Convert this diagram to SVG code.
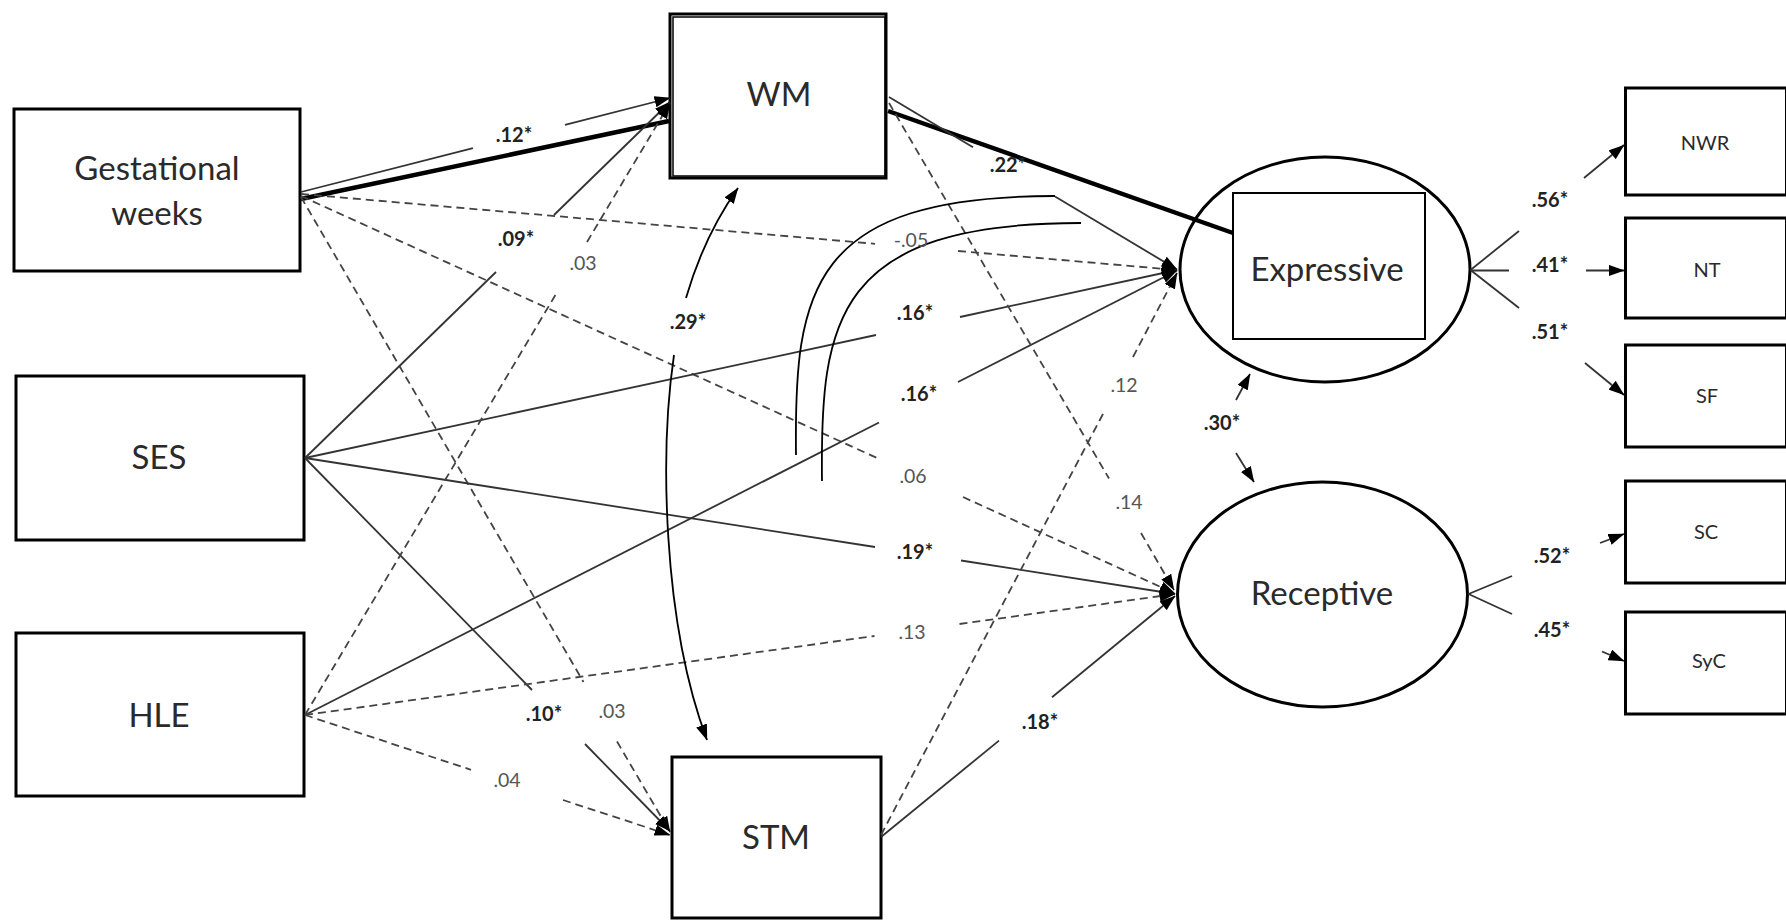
<svg xmlns="http://www.w3.org/2000/svg" width="1786" height="920" viewBox="0 0 1786 920">
<style>
.box{fill:#fff;stroke:#000;stroke-width:3}
.ell{fill:#fff;stroke:#000;stroke-width:3}
.inner{fill:none;stroke:#000;stroke-width:2}
.nt{font-family:Lato,"Noto Sans","Liberation Sans",sans-serif;font-size:33px;fill:#2a2a2a;text-anchor:middle}
.st{font-family:Lato,"Noto Sans","Liberation Sans",sans-serif;font-size:20px;fill:#2a2a2a;text-anchor:middle}
.solid{fill:none;stroke:#333;stroke-width:1.8}
.dash{fill:none;stroke:#444;stroke-width:1.8;stroke-dasharray:8 5}
.thick{fill:none;stroke:#000;stroke-width:4.5}
.arc{fill:none;stroke:#000;stroke-width:1.8}
.lbl{font-family:Lato,"Noto Sans","Liberation Sans",sans-serif;font-size:19.5px;fill:#555;text-anchor:middle}
.sig{font-weight:bold;font-size:20px;fill:#222}
</style>
<defs>
<marker id="ah" markerUnits="userSpaceOnUse" markerWidth="16" markerHeight="12" viewBox="0 0 14 10" refX="13.5" refY="5" orient="auto">
<path d="M0,0 L14,5 L0,10 z" fill="#000"/>
</marker>
</defs>
<rect width="1786" height="920" fill="#fff"/>

<g id="gestational">
<rect class="box" x="14" y="109" width="286" height="162"/>
<text class="nt" x="157" y="180">Gestational</text>
<text class="nt" x="157" y="225">weeks</text>
</g>
<g id="ses">
<rect class="box" x="16" y="376" width="288" height="164"/>
<text class="nt" x="159" y="469">SES</text>
</g>
<g id="hle">
<rect class="box" x="16" y="633" width="288" height="163"/>
<text class="nt" x="159" y="727">HLE</text>
</g>
<g id="wm">
<rect class="box" x="670" y="14" width="216" height="164"/>
<rect fill="none" stroke="#000" stroke-width="1.5" x="673" y="17" width="212" height="159"/>
<text class="nt" x="779" y="106">WM</text>
</g>
<g id="stm">
<rect class="box" x="672" y="757" width="209" height="161"/>
<text class="nt" x="776" y="849">STM</text>
</g>
<g id="expressive">
<ellipse class="ell" cx="1325" cy="269.5" rx="145" ry="112.5"/>
<rect class="inner" x="1233" y="193" width="192" height="146"/>
<text class="nt" x="1327" y="281">Expressive</text>
</g>
<g id="receptive">
<ellipse class="ell" cx="1322.5" cy="594.5" rx="145" ry="112.5"/>
<text class="nt" x="1322" y="605">Receptive</text>
</g>
<g id="nwr">
<rect class="box" x="1625.5" y="88" width="161" height="107"/>
<text class="st" x="1705" y="150">NWR</text>
</g>
<g id="nt">
<rect class="box" x="1625.5" y="218" width="161" height="100"/>
<text class="st" x="1707" y="277">NT</text>
</g>
<g id="sf">
<rect class="box" x="1625.5" y="345" width="161" height="102"/>
<text class="st" x="1707" y="403">SF</text>
</g>
<g id="sc">
<rect class="box" x="1625.5" y="481" width="161" height="102"/>
<text class="st" x="1706" y="539">SC</text>
</g>
<g id="syc">
<rect class="box" x="1625.5" y="612" width="161" height="102"/>
<text class="st" x="1709" y="668">SyC</text>
</g>

<g id="connectors">
<path class="thick" d="M301,199 L669,121"/>
<path class="thick" d="M888,111 L1233,233"/>
<path class="solid" d="M301,192 L473,148.2"/>
<path class="solid" d="M565,124.8 L670,98" marker-end="url(#ah)"/>
<path class="dash" d="M301,194 L875,243.8"/>
<path class="dash" d="M958,251 L1177,270" marker-end="url(#ah)"/>
<path class="dash" d="M301,196 L877,458"/>
<path class="dash" d="M963,497 L1175,593.5" marker-end="url(#ah)"/>
<path class="dash" d="M301,197 L583.5,682"/>
<path class="dash" d="M617,741.5 L670,832" marker-end="url(#ah)"/>
<path class="solid" d="M305,458 L496,272"/>
<path class="solid" d="M554,215 L670,102" marker-end="url(#ah)"/>
<path class="solid" d="M305,458 L876,335"/>
<path class="solid" d="M960,317 L1177,270" marker-end="url(#ah)"/>
<path class="solid" d="M305,458 L875,547"/>
<path class="solid" d="M961,560.5 L1175,594" marker-end="url(#ah)"/>
<path class="solid" d="M305,458 L532,690"/>
<path class="solid" d="M585,744 L670,831" marker-end="url(#ah)"/>
<path class="dash" d="M305,715 L556,294"/>
<path class="dash" d="M587,242 L670,103" marker-end="url(#ah)"/>
<path class="solid" d="M305,715 L879,422.5"/>
<path class="solid" d="M958,382 L1177,270.5" marker-end="url(#ah)"/>
<path class="dash" d="M305,715 L874.5,636"/>
<path class="dash" d="M959.5,624 L1175,594" marker-end="url(#ah)"/>
<path class="dash" d="M305,715 L471,769.8"/>
<path class="dash" d="M563,800 L670,835" marker-end="url(#ah)"/>
<path class="solid" d="M889,97 L973,147.3"/>
<path class="solid" d="M1055,196.4 L1177,269.5" marker-end="url(#ah)"/>
<path class="dash" d="M889,103 L1109,478.5"/>
<path class="dash" d="M1141,533 L1174,590" marker-end="url(#ah)"/>
<path class="dash" d="M881,835 L1103,414"/>
<path class="dash" d="M1133,357 L1177,273" marker-end="url(#ah)"/>
<path class="solid" d="M881,837 L999,740.6"/>
<path class="solid" d="M1052,697.3 L1175,596" marker-end="url(#ah)"/>
<path class="arc" d="M686,298 Q704,236 738,188" marker-end="url(#ah)"/>
<path class="arc" d="M674,355 C660,450 662,620 707,740" marker-end="url(#ah)"/>
<path class="arc" d="M796,455 C794,290 810,196 1055,196"/>
<path class="arc" d="M822,481 C820,320 835,223 1081,223"/>
<path class="solid" d="M1236,400 L1250,374" marker-end="url(#ah)"/>
<path class="solid" d="M1236,453 L1254,482" marker-end="url(#ah)"/>
<path class="solid" d="M1470.5,270 L1519,231"/>
<path class="solid" d="M1584,178 L1624,145" marker-end="url(#ah)"/>
<path class="solid" d="M1470.5,270.5 L1509,270.5" stroke-width="2.5" stroke="#666"/>
<path class="solid" d="M1586,270.5 L1624,270.5" marker-end="url(#ah)"/>
<path class="solid" d="M1470.5,270 L1519,308"/>
<path class="solid" d="M1585,363 L1624,395" marker-end="url(#ah)"/>
<path class="solid" d="M1468.5,594 L1512,576"/>
<path class="solid" d="M1600,543 L1624,534" marker-end="url(#ah)"/>
<path class="solid" d="M1468.5,594 L1512,614"/>
<path class="solid" d="M1602,651.5 L1624,661" marker-end="url(#ah)"/>
</g>

<g id="labels">
<text class="lbl sig" x="514" y="142">.12*</text>
<text class="lbl" x="911" y="247">-.05</text>
<text class="lbl" x="913" y="483">.06</text>
<text class="lbl" x="612" y="718">.03</text>
<text class="lbl sig" x="516" y="246">.09*</text>
<text class="lbl sig" x="915" y="320">.16*</text>
<text class="lbl sig" x="915" y="559">.19*</text>
<text class="lbl sig" x="544" y="721">.10*</text>
<text class="lbl" x="583" y="270">.03</text>
<text class="lbl sig" x="919" y="401">.16*</text>
<text class="lbl" x="912" y="639">.13</text>
<text class="lbl" x="507" y="787">.04</text>
<text class="lbl sig" x="1008" y="172">.22*</text>
<text class="lbl" x="1129" y="509">.14</text>
<text class="lbl" x="1124" y="392">.12</text>
<text class="lbl sig" x="1040" y="729">.18*</text>
<text class="lbl sig" x="688" y="329">.29*</text>
<text class="lbl sig" x="1222" y="430">.30*</text>
<text class="lbl sig" x="1550" y="207">.56*</text>
<text class="lbl sig" x="1550" y="272">.41*</text>
<text class="lbl sig" x="1550" y="339">.51*</text>
<text class="lbl sig" x="1552" y="563">.52*</text>
<text class="lbl sig" x="1552" y="637">.45*</text>
</g>
</svg>
